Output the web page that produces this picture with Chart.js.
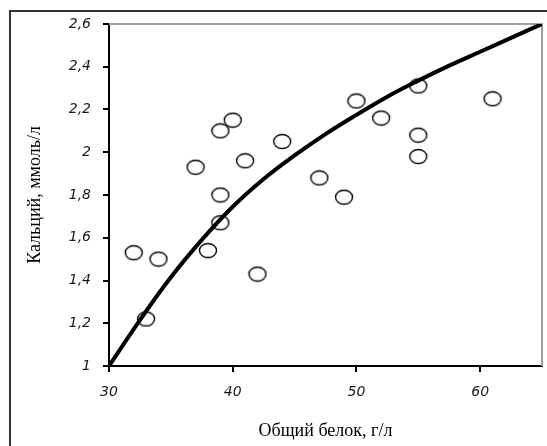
<!DOCTYPE html>
<html>
<head>
<meta charset="utf-8">
<script src="https://cdn.jsdelivr.net/npm/chart.js@4"></script>
<style>
  html, body { margin: 0; padding: 0; background: #fff; overflow: hidden; }
</style>
</head>
<body>
<canvas id="myChart" width="547" height="446"></canvas>
<script>
// observed points: total protein (g/l) vs calcium (mmol/l)
const protein = [32, 33, 34, 37, 38, 39, 39, 39, 40, 41, 42, 44, 47, 49, 50, 52, 55, 55, 55, 61];
const calcium = [1.53, 1.22, 1.50, 1.93, 1.54, 2.10, 1.80, 1.67, 2.15, 1.96, 1.43, 2.05, 1.88, 1.79, 2.24, 2.16, 2.31, 2.08, 1.98, 2.25];

// trend curve
const curveX = [30, 32.5, 35, 37.5, 40, 42.5, 45, 47.5, 50, 52.5, 55, 57.5, 60, 62.5, 65];
const curveY = [1.0, 1.215, 1.415, 1.59, 1.745, 1.875, 1.985, 2.085, 2.175, 2.26, 2.335, 2.405, 2.47, 2.535, 2.6];

const xTicks = [30, 40, 50, 60];
const yTicks = [1, 1.2, 1.4, 1.6, 1.8, 2, 2.2, 2.4, 2.6];

// hollow ellipse marker
const marker = document.createElement('canvas');
marker.width = 20;
marker.height = 17;
const mc = marker.getContext('2d');
mc.strokeStyle = '#000';
mc.lineWidth = 1.4;
mc.beginPath();
mc.ellipse(10, 8.5, 8.5, 7, 0, 0, Math.PI * 2);
mc.stroke();

// outer picture frame + gray top/right edge of the plot area
const frames = {
  id: 'frames',
  beforeDraw(chart) {
    const c = chart.ctx;
    c.save();
    c.strokeStyle = '#333';
    c.lineWidth = 2;
    c.beginPath();
    c.moveTo(10, chart.height);
    c.lineTo(10, 11);
    c.lineTo(chart.width, 11);
    c.stroke();
    c.restore();
  },
  beforeDatasetsDraw(chart) {
    const a = chart.chartArea;
    const c = chart.ctx;
    c.save();
    c.strokeStyle = '#a0a0a0';
    c.lineWidth = 2;
    c.beginPath();
    c.moveTo(a.left, a.top);
    c.lineTo(a.right, a.top);
    c.lineTo(a.right, a.bottom);
    c.stroke();
    c.restore();
  }
};

const tickFont = { family: 'DejaVu Sans', style: 'italic', size: 14 };
const titleFont = { family: 'Liberation Serif', size: 18 };

const ctx = document.getElementById('myChart');

new Chart(ctx, {
  type: 'scatter',
  data: {
    datasets: [
      {
        type: 'line',
        label: 'curve',
        data: curveX.map((x, i) => ({ x: x, y: curveY[i] })),
        borderColor: '#000',
        borderWidth: 4,
        pointRadius: 0,
        tension: 0.4,
        fill: false
      },
      {
        label: 'points',
        data: protein.map((x, i) => ({ x: x, y: calcium[i] })),
        pointStyle: marker,
        pointRadius: 9
      }
    ]
  },
  options: {
    responsive: false,
    animation: false,
    layout: { autoPadding: false, padding: { top: 24, right: 5, left: 0, bottom: 0 } },
    plugins: { legend: { display: false }, tooltip: { enabled: false } },
    scales: {
      x: {
        type: 'linear',
        min: 30,
        max: 65,
        afterBuildTicks: s => { s.ticks = xTicks.map(v => ({ value: v })); },
        afterFit: s => { s.height = 80; s.paddingLeft = 0; s.paddingRight = 0; },
        border: { color: '#000', width: 2 },
        grid: { drawOnChartArea: false, tickLength: 6, color: '#000', lineWidth: 2 },
        ticks: { font: tickFont, color: '#1a1a1a', padding: 12, maxRotation: 0 },
        title: { display: true, text: 'Общий белок, г/л', font: titleFont, color: '#000', padding: { bottom: 4 } }
      },
      y: {
        type: 'linear',
        min: 1,
        max: 2.6,
        afterBuildTicks: s => { s.ticks = yTicks.map(v => ({ value: v })); },
        afterFit: s => { s.width = 109; s.paddingTop = 0; s.paddingBottom = 0; },
        border: { color: '#000', width: 2 },
        grid: { drawOnChartArea: false, tickLength: 6, color: '#000', lineWidth: 2 },
        ticks: { font: tickFont, color: '#1a1a1a', padding: 12, callback: v => String(v).replace('.', ',') },
        title: { display: true, text: 'Кальций, ммоль/л', font: titleFont, color: '#000', padding: { top: 24 } }
      }
    }
  },
  plugins: [frames]
});
</script>
</body>
</html>
